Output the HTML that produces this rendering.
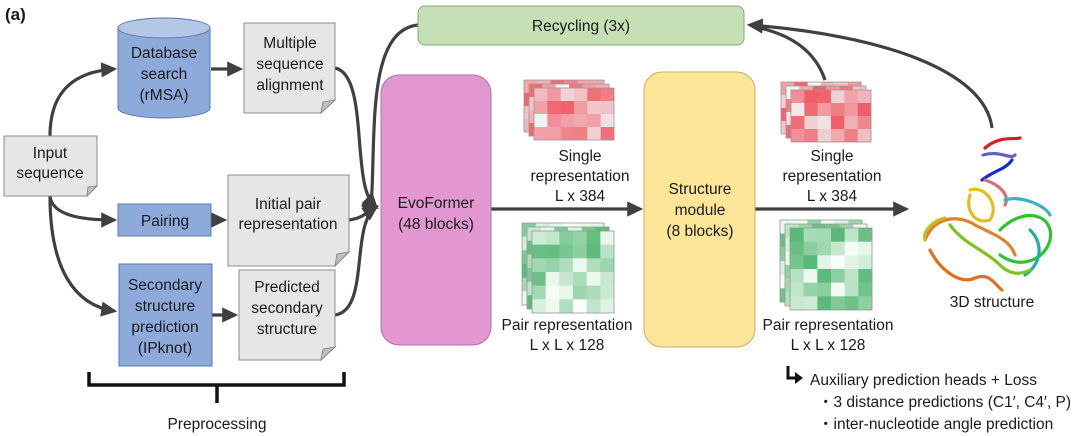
<!DOCTYPE html>
<html><head><meta charset="utf-8"><style>
html,body{margin:0;padding:0;background:#fff;}
svg{display:block;font-family:"Liberation Sans","Noto Sans CJK SC",sans-serif;}
text{font-size:15.5px;fill:#1a1a1a;text-anchor:middle;}
</style></head><body>
<svg id="s" width="1080" height="436" viewBox="0 0 1080 436" xmlns="http://www.w3.org/2000/svg">
<defs>
<marker id="ah" markerWidth="6" markerHeight="6" refX="4" refY="3" orient="auto" markerUnits="strokeWidth"><path d="M0,0.6 L5,3 L0,5.4 z" fill="#404040"/></marker>
</defs>
<text x="5" y="20" style="font-weight:bold;font-size:17px;text-anchor:start">(a)</text>

<g fill="none" stroke="#404040" stroke-width="3.2">
<path d="M50,136 C50,95 70,72 114,69" marker-end="url(#ah)"/>
<path d="M50,196 C52,215 80,220 114,220" marker-end="url(#ah)"/>
<path d="M50,196 C50,270 75,305 114,311" marker-end="url(#ah)"/>
<path d="M211,69 L240,69" marker-end="url(#ah)"/>
<path d="M211,220 L224,220" marker-end="url(#ah)"/>
<path d="M212,315 L235,315" marker-end="url(#ah)"/>
<path d="M335,68 C370,75 350,190 376,207" marker-end="url(#ah)"/>
<path d="M349,220 C365,218 368,210 376,207" marker-end="url(#ah)"/>
<path d="M335,315 C370,310 350,225 376,207" marker-end="url(#ah)"/>
<path d="M418,25 C370,30 375,120 372,190 C371,200 374,205 376,207" marker-end="url(#ah)"/>
<path d="M491,209 L640,209" marker-end="url(#ah)"/>
<path d="M755,209 L906,209" marker-end="url(#ah)"/>
<path d="M825,80 C815,50 790,35 760,28"/>
<path d="M992,128 C985,70 880,35 750,25" marker-end="url(#ah)"/>
</g>

<path d="M118,28 L118,108 A46,10 0 0 0 210,108 L210,28" fill="#8eaadb" stroke="#5b79a8" stroke-width="1"/>
<ellipse cx="164" cy="28" rx="46" ry="10" fill="#b4c7e7" stroke="#5b79a8" stroke-width="1"/>
<text x="164" y="58">Database</text><text x="164" y="79">search</text><text x="164" y="100">(rMSA)</text>

<g fill="#e7e6e6" stroke="#8c8c8c" stroke-width="1">
<path d="M244,23 L335,23 L335,100 L321,113 L244,113 Z"/>
<path d="M4,136 L97,136 L97,186 L87,196 L4,196 Z"/>
<path d="M228,175 L349,175 L349,252 L335,266 L228,266 Z"/>
<path d="M239,270 L335,270 L335,347 L321,360 L239,360 Z"/>
</g>
<g fill="#bfbfbf" stroke="#8c8c8c" stroke-width="1">
<path d="M321,113 L323,102 L335,100 Z"/><path d="M87,196 L88,187 L97,186 Z"/>
<path d="M335,266 L337,254 L349,252 Z"/><path d="M321,360 L323,349 L335,347 Z"/>
</g>
<text x="290" y="48">Multiple</text><text x="290" y="69">sequence</text><text x="290" y="90">alignment</text>
<text x="50" y="158">Input</text><text x="50" y="178">sequence</text>
<text x="288" y="209">Initial pair</text><text x="288" y="229">representation</text>
<text x="287" y="292">Predicted</text><text x="287" y="313">secondary</text><text x="287" y="334">structure</text>

<rect x="118" y="204" width="93" height="32" fill="#8eaadb" stroke="#5b79a8"/>
<text x="165" y="226">Pairing</text>
<rect x="119" y="264" width="93" height="102" fill="#8eaadb" stroke="#5b79a8"/>
<text x="165" y="290">Secondary</text><text x="165" y="311">structure</text><text x="165" y="332">prediction</text><text x="165" y="353">(IPknot)</text>

<path d="M89,372 L89,385 L344,385 L344,372 M217,385 L217,403" fill="none" stroke="#111" stroke-width="3.5"/>
<text x="217" y="429">Preprocessing</text>

<rect x="418" y="6" width="326" height="39" rx="7" fill="#c5e0b4" stroke="#8aa878"/>
<text x="581" y="31">Recycling (3x)</text>

<rect x="381" y="75" width="110" height="270" rx="18" fill="#e397d1" stroke="#b070a0"/>
<text x="436" y="208">EvoFormer</text><text x="436" y="229">(48 blocks)</text>
<rect x="644" y="72" width="111" height="275" rx="18" fill="#fee699" stroke="#c8b060"/>
<text x="700" y="194">Structure</text><text x="700" y="215">module</text><text x="700" y="236">(8 blocks)</text>

<g id="maps"></g>
<text x="580" y="161">Single</text><text x="580" y="181">representation</text><text x="580" y="201">L x 384</text>
<text x="567" y="330">Pair representation</text><text x="567" y="350">L x L x 128</text>
<text x="832" y="161">Single</text><text x="832" y="181">representation</text><text x="832" y="201">L x 384</text>
<text x="828" y="330">Pair representation</text><text x="828" y="350">L x L x 128</text>

<g fill="none" stroke-width="3.2" stroke-linecap="round">
<path d="M985,148 C1000,135 1015,140 1020,138" stroke="#d62020"/>
<path d="M983,155 C1000,150 1010,160 1015,155" stroke="#6060c0"/>
<path d="M982,180 C995,170 1005,170 1012,160" stroke="#1a2ad0"/>
<path d="M970,190 C985,185 1000,205 990,220 C975,225 965,210 970,195" stroke="#e0c020"/>
<path d="M985,180 C1000,185 1010,195 1005,205" stroke="#d07070"/>
<path d="M1005,200 C1020,195 1045,205 1050,215" stroke="#40b0c0"/>
<path d="M1000,230 C1025,205 1055,215 1050,240 C1045,260 1020,270 1000,255" stroke="#30c030"/>
<path d="M1030,230 C1045,245 1040,265 1025,275" stroke="#20b0a0"/>
<path d="M925,240 C935,215 960,215 975,225 C995,235 1010,240 1015,255" stroke="#e08030"/>
<path d="M930,250 C940,270 960,285 975,278 C990,272 995,285 1002,290" stroke="#e07020"/>
<path d="M950,225 C965,245 985,250 1000,265 C1010,275 1020,275 1030,270" stroke="#80c020"/>
<path d="M925,240 C922,230 935,220 945,218" stroke="#c0c020"/>
</g>
<text x="992" y="307">3D structure</text>

<path d="M788,366 L788,378 L796,378" fill="none" stroke="#111" stroke-width="3"/>
<path d="M795,372 L803,378 L795,384 Z" fill="#111"/>
<text x="810" y="385" style="text-anchor:start">Auxiliary prediction heads + Loss</text>
<text x="818" y="407" style="text-anchor:start">・3 distance predictions (C1′, C4′, P)</text>
<text x="818" y="429" style="text-anchor:start">・inter-nucleotide angle prediction</text>
</svg>
<script>
(function(){
var g=document.getElementById('maps'),ns="http://www.w3.org/2000/svg",seed=7;
function r(){seed=(seed*9301+49297)%233280;return seed/233280;}
function map(x,y,w,h,cols,rows,base){
  for(var k=2;k>=0;k--){
    var ox=x+k*-5, oy=y+k*-4, cw=w/cols, ch=h/rows;
    for(var i=0;i<rows;i++)for(var j=0;j<cols;j++){
      var t=r(),c=document.createElementNS(ns,'rect');
      c.setAttribute('x',ox+j*cw);c.setAttribute('y',oy+i*ch);
      c.setAttribute('width',cw+0.3);c.setAttribute('height',ch+0.3);
      var col=base=='r'?'rgb(240,'+Math.round(90+t*160)+','+Math.round(100+t*150)+')':'rgb('+Math.round(90+t*160)+','+Math.round(185+t*70)+','+Math.round(120+t*130)+')';
      c.setAttribute('fill',col);g.appendChild(c);
    }
    var b=document.createElementNS(ns,'rect');
    b.setAttribute('x',ox);b.setAttribute('y',oy);b.setAttribute('width',w);b.setAttribute('height',h);
    b.setAttribute('fill','none');b.setAttribute('stroke','#999');b.setAttribute('stroke-width','0.8');g.appendChild(b);
  }
}
map(534,88,80,52,6,4,'r');
map(532,231,82,82,6,6,'g');
map(791,90,80,52,6,4,'r');
map(790,228,82,82,6,6,'g');
})();
</script>
</body></html>
